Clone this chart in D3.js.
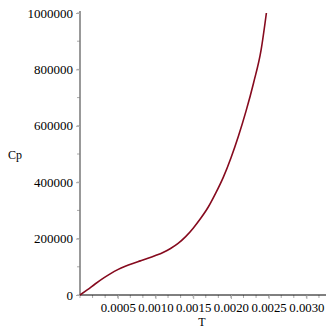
<!DOCTYPE html>
<html>
<head>
<meta charset="utf-8">
<script src="https://cdn.jsdelivr.net/npm/d3@7"></script>
<style>
body { margin: 0; background: #fff; }
</style>
</head>
<body>
<svg id="chart"></svg>
<script>
// data
var T = [0, 0.0001, 0.0002, 0.0003, 0.0004, 0.0005, 0.0006, 0.0007, 0.0008, 0.0009,
    0.0010, 0.0011, 0.0012, 0.0013, 0.0014, 0.0015, 0.0016, 0.0017, 0.0018, 0.0019,
    0.0020, 0.0021, 0.0022, 0.0023, 0.0024, 0.00247];
var Cp = [0, 19000, 39000, 58000, 75000, 90000, 102000, 112000, 121000, 130000,
    140000, 151000, 165000, 183000, 207000, 237000, 272000, 312000, 362000, 418000,
    486000, 564000, 652000, 752000, 869000, 1000000];
var xTicks = [0.0005, 0.0010, 0.0015, 0.0020, 0.0025, 0.0030];
var yTicks = [0, 200000, 400000, 600000, 800000, 1000000];

var font = '"Liberation Serif", "Times New Roman", "DejaVu Serif", serif';
var width = 332, height = 332;
var svg = d3.select('#chart')
    .attr('width', width)
    .attr('height', height);

var x = d3.scaleLinear()
    .domain([0, 0.00326])
    .range([80, 326]);

var y = d3.scaleLinear()
    .domain([0, 1000000])
    .range([295, 13]);

// minor ticks
var xMinor = d3.range(0, 0.00326, 0.0005 / 3);
var yMinor = d3.range(0, 1000001, 100000);

svg.append('g')
    .selectAll('line')
    .data(xMinor)
    .enter().append('line')
    .attr('x1', function (d) { return x(d); })
    .attr('x2', function (d) { return x(d); })
    .attr('y1', y(0))
    .attr('y2', y(0) + 3)
    .style('stroke', '#aaa');

svg.append('g')
    .selectAll('line')
    .data(yMinor)
    .enter().append('line')
    .attr('x1', x(0) - 3)
    .attr('x2', x(0))
    .attr('y1', function (d) { return y(d); })
    .attr('y2', function (d) { return y(d); })
    .style('stroke', '#aaa');

// x axis
var xAxis = d3.axisBottom(x)
    .tickValues(xTicks)
    .tickSize(4)
    .tickFormat(d3.format('.4f'));

var gx = svg.append('g')
    .attr('transform', 'translate(0,' + y(0) + ')')
    .call(xAxis)
    .attr('font-family', font)
    .attr('font-size', 12.8);
gx.select('.domain').attr('d', 'M' + x(0) + ',0H326').style('stroke', '#000');
gx.selectAll('.tick line').style('stroke', '#aaa');
gx.selectAll('text').attr('y', 8).style('fill', '#000');

// y axis
var yAxis = d3.axisLeft(y)
    .tickValues(yTicks)
    .tickSize(4)
    .tickFormat(d3.format('d'));

var gy = svg.append('g')
    .attr('transform', 'translate(' + x(0) + ',0)')
    .call(yAxis)
    .attr('font-family', font)
    .attr('font-size', 13);
gy.select('.domain').attr('d', 'M0,' + y(0) + 'V11').style('stroke', '#777').style('stroke-width', 1.5);
gy.selectAll('.tick line').style('stroke', '#aaa');
gy.selectAll('text').style('fill', '#000');

// axis titles
svg.append('text')
    .attr('x', 202)
    .attr('y', 326)
    .attr('text-anchor', 'middle')
    .style('font-family', font)
    .style('font-size', '12px')
    .text('T');

svg.append('text')
    .attr('x', 15)
    .attr('y', 159)
    .attr('text-anchor', 'middle')
    .style('font-family', font)
    .style('font-size', '12px')
    .text('Cp');

// curve
var line = d3.line()
    .x(function (d, i) { return x(T[i]); })
    .y(function (d) { return y(d); })
    .curve(d3.curveMonotoneX);

svg.append('path')
    .datum(Cp)
    .attr('d', line)
    .style('fill', 'none')
    .style('stroke', '#860a1e')
    .style('stroke-width', 1.6);
</script>
</body>
</html>
